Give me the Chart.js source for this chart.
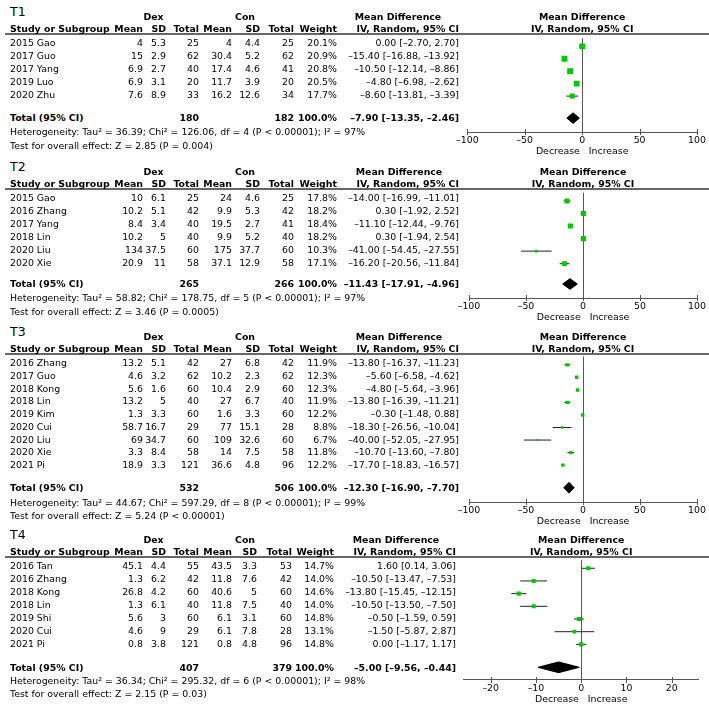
<!DOCTYPE html>
<html><head><meta charset="utf-8">
<script src="https://cdn.jsdelivr.net/npm/chart.js@4.4.0/dist/chart.umd.min.js"></script>
<style>
html,body{margin:0;padding:0;background:#fff}
body{width:709px;height:707px;overflow:hidden;position:relative;font-family:"DejaVu Sans",sans-serif;color:#000}
.t{position:absolute;white-space:nowrap}
.hl{position:absolute;left:5px;width:704px;height:2px;background:#666}
canvas{position:absolute}
</style></head><body>
<script>
// ---------- DATA ----------
const panelNames = ['T1', 'T2', 'T3', 'T4'];

const t1Studies = ['2015 Gao', '2017 Guo', '2017 Yang', '2019 Luo', '2020 Zhu'];
const t1DexMean = [4, 15, 6.9, 6.9, 7.6];
const t1DexSD = [5.3, 2.9, 2.7, 3.1, 8.9];
const t1DexN = [25, 62, 40, 20, 33];
const t1ConMean = [4, 30.4, 17.4, 11.7, 16.2];
const t1ConSD = [4.4, 5.2, 4.6, 3.9, 12.6];
const t1ConN = [25, 62, 41, 20, 34];
const t1Weight = [20.1, 20.9, 20.8, 20.5, 17.7];
const t1MD = [0.00, -15.40, -10.50, -4.80, -8.60];
const t1Lo = [-2.70, -16.88, -12.14, -6.98, -13.81];
const t1Hi = [2.70, -13.92, -8.86, -2.62, -3.39];

const t2Studies = ['2015 Gao', '2016 Zhang', '2017 Yang', '2018 Lin', '2020 Liu', '2020 Xie'];
const t2DexMean = [10, 10.2, 8.4, 10.2, 134, 20.9];
const t2DexSD = [6.1, 5.1, 3.4, 5, 37.5, 11];
const t2DexN = [25, 42, 40, 40, 60, 58];
const t2ConMean = [24, 9.9, 19.5, 9.9, 175, 37.1];
const t2ConSD = [4.6, 5.3, 2.7, 5.2, 37.7, 12.9];
const t2ConN = [25, 42, 41, 40, 60, 58];
const t2Weight = [17.8, 18.2, 18.4, 18.2, 10.3, 17.1];
const t2MD = [-14.00, 0.30, -11.10, 0.30, -41.00, -16.20];
const t2Lo = [-16.99, -1.92, -12.44, -1.94, -54.45, -20.56];
const t2Hi = [-11.01, 2.52, -9.76, 2.54, -27.55, -11.84];

const t3Studies = ['2016 Zhang', '2017 Guo', '2018 Kong', '2018 Lin', '2019 Kim', '2020 Cui', '2020 Liu', '2020 Xie', '2021 Pi'];
const t3DexMean = [13.2, 4.6, 5.6, 13.2, 1.3, 58.7, 69, 3.3, 18.9];
const t3DexSD = [5.1, 3.2, 1.6, 5, 3.3, 16.7, 34.7, 8.4, 3.3];
const t3DexN = [42, 62, 60, 40, 60, 29, 60, 58, 121];
const t3ConMean = [27, 10.2, 10.4, 27, 1.6, 77, 109, 14, 36.6];
const t3ConSD = [6.8, 2.3, 2.9, 6.7, 3.3, 15.1, 32.6, 7.5, 4.8];
const t3ConN = [42, 62, 60, 40, 60, 28, 60, 58, 96];
const t3Weight = [11.9, 12.3, 12.3, 11.9, 12.2, 8.8, 6.7, 11.8, 12.2];
const t3MD = [-13.80, -5.60, -4.80, -13.80, -0.30, -18.30, -40.00, -10.70, -17.70];
const t3Lo = [-16.37, -6.58, -5.64, -16.39, -1.48, -26.56, -52.05, -13.60, -18.83];
const t3Hi = [-11.23, -4.62, -3.96, -11.21, 0.88, -10.04, -27.95, -7.80, -16.57];

const t4Studies = ['2016 Tan', '2016 Zhang', '2018 Kong', '2018 Lin', '2019 Shi', '2020 Cui', '2021 Pi'];
const t4DexMean = [45.1, 1.3, 26.8, 1.3, 5.6, 4.6, 0.8];
const t4DexSD = [4.4, 6.2, 4.2, 6.1, 3, 9, 3.8];
const t4DexN = [55, 42, 60, 40, 60, 29, 121];
const t4ConMean = [43.5, 11.8, 40.6, 11.8, 6.1, 6.1, 0.8];
const t4ConSD = [3.3, 7.6, 5, 7.5, 3.1, 7.8, 4.8];
const t4ConN = [53, 42, 60, 40, 60, 28, 96];
const t4Weight = [14.7, 14.0, 14.6, 14.0, 14.8, 13.1, 14.8];
const t4MD = [1.60, -10.50, -13.80, -10.50, -0.50, -1.50, 0.00];
const t4Lo = [0.14, -13.47, -15.45, -13.50, -1.59, -5.87, -1.17];
const t4Hi = [3.06, -7.53, -12.15, -7.50, 0.59, 2.87, 1.17];

const totalDex = [180, 265, 532, 407];
const totalCon = [182, 266, 506, 379];
const totalMD = [-7.90, -11.43, -12.30, -5.00];
const totalLo = [-13.35, -17.91, -16.90, -9.56];
const totalHi = [-2.46, -4.96, -7.70, -0.44];
const hetTau2 = [36.39, 58.82, 44.67, 36.34];
const hetChi2 = [126.06, 178.75, 597.29, 295.32];
const hetDf = [4, 5, 8, 6];
const hetP = ['< 0.00001', '< 0.00001', '< 0.00001', '< 0.00001'];
const hetI2 = [97, 97, 99, 98];
const zVal = [2.85, 3.46, 5.24, 2.15];
const zP = ['= 0.004', '= 0.0005', '< 0.00001', '= 0.03'];

const axisTicks = [[-100, -50, 0, 50, 100], [-100, -50, 0, 50, 100], [-100, -50, 0, 50, 100], [-20, -10, 0, 10, 20]];
const axisMin = [-100, -100, -100, -26];
const axisMax = [100, 100, 100, 26];

// ---------- LAYOUT / STYLE ----------
const FONT = '"DejaVu Sans", sans-serif';
const FS = 9.4;
const GREEN = '#00c800';
const LINE = '#555';
const layouts = [
  {lineY: 34, step: 13, totalGap: 23, hetGap: 14, cols: [143, 166, 199, 232, 260, 294, 337, 459], mdHead: 398, padL: 27.3, padR: 10.7},
  {lineY: 189, step: 13, totalGap: 21, hetGap: 14, cols: [143, 166, 199, 232, 260, 294, 337, 459], mdHead: 399, padL: 29, padR: 11},
  {lineY: 354, step: 12.75, totalGap: 23, hetGap: 14.5, cols: [143, 166, 199, 232, 260, 294, 337, 459], mdHead: 399, padL: 29, padR: 11},
  {lineY: 557, step: 13, totalGap: 23.5, hetGap: 13, cols: [143, 166, 199, 232, 257, 292, 334, 456], mdHead: 396, padL: 23.6, padR: 10.2}
];
const FIRST = 8.5, TESTGAP = 13.5, AXIS_H = 25, CANVAS_LEFT = 440;

const panels = [
  {studies: t1Studies, dm: t1DexMean, ds: t1DexSD, dn: t1DexN, cm: t1ConMean, cs: t1ConSD, cn: t1ConN, w: t1Weight, md: t1MD, lo: t1Lo, hi: t1Hi},
  {studies: t2Studies, dm: t2DexMean, ds: t2DexSD, dn: t2DexN, cm: t2ConMean, cs: t2ConSD, cn: t2ConN, w: t2Weight, md: t2MD, lo: t2Lo, hi: t2Hi},
  {studies: t3Studies, dm: t3DexMean, ds: t3DexSD, dn: t3DexN, cm: t3ConMean, cs: t3ConSD, cn: t3ConN, w: t3Weight, md: t3MD, lo: t3Lo, hi: t3Hi},
  {studies: t4Studies, dm: t4DexMean, ds: t4DexSD, dn: t4DexN, cm: t4ConMean, cs: t4ConSD, cn: t4ConN, w: t4Weight, md: t4MD, lo: t4Lo, hi: t4Hi}
];

function sgn(v, d) { return (v < 0 ? '\u2013' : '') + Math.abs(v).toFixed(d); }
function ci(m, l, h) { return sgn(m, 2) + ' [' + sgn(l, 2) + ', ' + sgn(h, 2) + ']'; }

function txt(s, x, y, align, bold, size) {
  size = size || FS;
  const lh = Math.round(size * 1.4);
  const base = (lh - 1.164 * size) / 2 + 0.928 * size;
  const capC = base - 0.365 * size;
  const d = document.createElement('div');
  d.className = 't';
  d.textContent = s;
  d.style.fontSize = size + 'px';
  d.style.lineHeight = lh + 'px';
  d.style.height = lh + 'px';
  d.style.top = (y - capC) + 'px';
  if (bold) d.style.fontWeight = 'bold';
  if (align === 'r') { d.style.left = (x - 300) + 'px'; d.style.width = '300px'; d.style.textAlign = 'right'; }
  else if (align === 'c') { d.style.left = (x - 150) + 'px'; d.style.width = '300px'; d.style.textAlign = 'center'; }
  else { d.style.left = x + 'px'; }
  document.body.appendChild(d);
}

const tickMarks = {
  id: 'tickMarks',
  afterDraw(chart) {
    const s = chart.scales.x, ctx = chart.ctx;
    ctx.save();
    ctx.strokeStyle = LINE; ctx.lineWidth = 1;
    s.ticks.forEach(t => {
      const x = Math.round(s.getPixelForValue(t.value)) + 0.5;
      ctx.beginPath(); ctx.moveTo(x, s.top - 3); ctx.lineTo(x, s.top + 3); ctx.stroke();
    });
    ctx.restore();
  }
};

panels.forEach((P, pi) => {
  const L = layouts[pi];
  const n = P.studies.length;
  const rowRel = i => FIRST + i * L.step;
  const totalRel = rowRel(n - 1) + L.totalGap;
  const hetRel = totalRel + L.hetGap;
  const testRel = hetRel + TESTGAP;
  const Y = r => L.lineY + r;
  const c = L.cols;

  const hl = document.createElement('div');
  hl.className = 'hl'; hl.style.top = (L.lineY - 1) + 'px';
  document.body.appendChild(hl);

  const h = Math.round(hetRel + AXIS_H);
  const yMax = h - AXIS_H;
  const canvas = document.createElement('canvas');
  canvas.width = 709 - CANVAS_LEFT; canvas.height = h;
  canvas.style.left = CANVAS_LEFT + 'px'; canvas.style.top = L.lineY + 'px';
  canvas.style.width = (709 - CANVAS_LEFT) + 'px'; canvas.style.height = h + 'px';
  document.body.appendChild(canvas);

  const dh = 5.5;
  const ty = totalRel;
  const sq = w => w * 0.2;
  const datasets = [
    {type: 'scatter', data: P.md.map((v, i) => ({x: v, y: rowRel(i)})), pointStyle: 'rect',
      pointRadius: P.w.map(sq), pointHoverRadius: P.w.map(sq),
      backgroundColor: GREEN, borderColor: GREEN, borderWidth: 0, order: 0},
    ...P.lo.map((l, i) => ({type: 'line', data: [{x: l, y: rowRel(i)}, {x: P.hi[i], y: rowRel(i)}],
      borderColor: '#222', borderWidth: 1, pointRadius: 0, fill: false, tension: 0, order: 2})),
    {type: 'line', data: [{x: totalLo[pi], y: ty}, {x: totalMD[pi], y: ty - dh}, {x: totalHi[pi], y: ty},
      {x: totalMD[pi], y: ty + dh}, {x: totalLo[pi], y: ty}],
      borderColor: '#000', backgroundColor: '#000', borderWidth: 1, pointRadius: 0, fill: 'shape', tension: 0, order: 1}
  ];

  const chart = new Chart(canvas, {
    type: 'scatter',
    data: {datasets},
    options: {
      responsive: false, animation: false, events: [],
      layout: {padding: {left: L.padL, right: L.padR, top: 0, bottom: 0}},
      plugins: {legend: {display: false}, tooltip: {enabled: false}},
      scales: {
        x: {
          type: 'linear', min: axisMin[pi], max: axisMax[pi],
          afterBuildTicks: s => { s.ticks = axisTicks[pi].map(v => ({value: v})); },
          afterFit: s => { s.height = AXIS_H; },
          grid: {drawTicks: false, lineWidth: 1,
            color: ctx => (ctx.tick && ctx.tick.value === 0) ? LINE : 'rgba(0,0,0,0)'},
          border: {display: true, color: LINE, width: 1},
          ticks: {padding: 3, color: '#000', font: {family: FONT, size: FS}, autoSkip: false, maxRotation: 0,
            callback: v => sgn(v, 0)},
          title: {display: true, text: 'Decrease   Increase', color: '#000', font: {family: FONT, size: FS}, padding: {top: 0, bottom: 0}}
        },
        y: {type: 'linear', display: false, reverse: true, min: 0, max: yMax}
      }
    },
    plugins: [tickMarks]
  });

  const x0 = CANVAS_LEFT + chart.scales.x.getPixelForValue(0);

  txt(panelNames[pi], 10, L.lineY - 22.5, 'l', false, 12.5);
  txt('Dex', 153.5, L.lineY - 18, 'c', true);
  txt('Con', 245, L.lineY - 18, 'c', true);
  txt('Mean Difference', L.mdHead, L.lineY - 18, 'c', true);
  txt('Mean Difference', x0, L.lineY - 18, 'c', true);
  const hy = L.lineY - 5.5;
  txt('Study or Subgroup', 10, hy, 'l', true);
  txt('Mean', c[0], hy, 'r', true);
  txt('SD', c[1], hy, 'r', true);
  txt('Total', c[2], hy, 'r', true);
  txt('Mean', c[3], hy, 'r', true);
  txt('SD', c[4], hy, 'r', true);
  txt('Total', c[5], hy, 'r', true);
  txt('Weight', c[6], hy, 'r', true);
  txt('IV, Random, 95% CI', c[7], hy, 'r', true);
  txt('IV, Random, 95% CI', x0, hy, 'c', true);

  P.studies.forEach((s, i) => {
    const y = Y(rowRel(i));
    txt(s, 10, y, 'l');
    txt(String(P.dm[i]), c[0], y, 'r');
    txt(String(P.ds[i]), c[1], y, 'r');
    txt(String(P.dn[i]), c[2], y, 'r');
    txt(String(P.cm[i]), c[3], y, 'r');
    txt(String(P.cs[i]), c[4], y, 'r');
    txt(String(P.cn[i]), c[5], y, 'r');
    txt(P.w[i].toFixed(1) + '%', c[6], y, 'r');
    txt(ci(P.md[i], P.lo[i], P.hi[i]), c[7], y, 'r');
  });

  const yt = Y(totalRel);
  txt('Total (95% CI)', 10, yt, 'l', true);
  txt(String(totalDex[pi]), c[2], yt, 'r', true);
  txt(String(totalCon[pi]), c[5], yt, 'r', true);
  txt('100.0%', c[6], yt, 'r', true);
  txt(ci(totalMD[pi], totalLo[pi], totalHi[pi]), c[7], yt, 'r', true);

  txt('Heterogeneity: Tau\u00b2 = ' + hetTau2[pi].toFixed(2) + '; Chi\u00b2 = ' + hetChi2[pi].toFixed(2) +
      ', df = ' + hetDf[pi] + ' (P ' + hetP[pi] + '); I\u00b2 = ' + hetI2[pi] + '%', 10, Y(hetRel), 'l');
  txt('Test for overall effect: Z = ' + zVal[pi].toFixed(2) + ' (P ' + zP[pi] + ')', 10, Y(testRel), 'l');
});
</script>
</body></html>
